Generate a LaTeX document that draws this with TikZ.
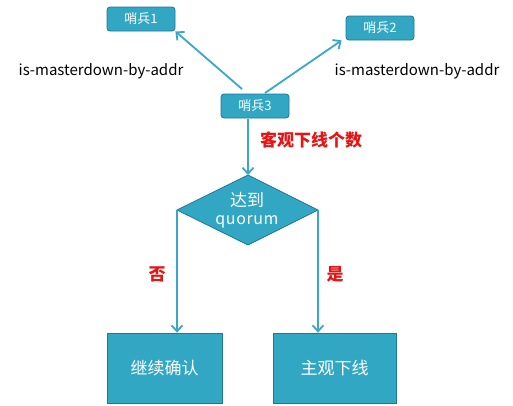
\documentclass[tikz,border=0pt]{standalone}
\usepackage{fontspec}
\setmainfont{Noto Sans CJK SC}
\usetikzlibrary{shapes.geometric,arrows.meta}
\definecolor{boxfill}{RGB}{49,167,196}
\definecolor{boxedge}{RGB}{30,120,150}
\definecolor{arr}{RGB}{58,166,200}
\definecolor{lblred}{RGB}{230,20,20}
\tikzset{
  sentinel/.style={draw=boxedge, fill=boxfill, rounded corners=3pt, line width=0.8pt,
    minimum width=68pt, minimum height=24pt, text=white, font=\fontsize{13}{13}\selectfont, inner sep=0pt},
  result/.style={draw=boxedge, fill=boxfill, line width=0.8pt,
    text=white, font=\fontsize{17}{17}\selectfont, inner sep=0pt},
  conn/.style={draw=arr, line width=1.8pt, -{Straight Barb[length=6pt,width=11pt,line width=1.8pt]}},
  redlbl/.style={text=lblred, font=\fontsize{17}{17}\selectfont\bfseries},
  plain/.style={text=black, font=\fontsize{15}{15}\selectfont},
}
\begin{document}
\begin{tikzpicture}[x=1pt,y=-1pt]
\useasboundingbox (0,0) rectangle (513,405);
\node[sentinel] (s1) at (141,19) {哨兵1};
\node[sentinel] (s2) at (380,28) {哨兵2};
\node[sentinel] (s3) at (255,106) {哨兵3};
\node[plain] (l1) at (101,71) {is-masterdown-by-addr};
\node[plain] (l2) at (417,71) {is-masterdown-by-addr};
\fill[boxfill, draw=boxedge, line width=0.8pt] (248,175) -- (318,210) -- (248,245) -- (177,210) -- cycle;
\node[text=white, font=\fontsize{17}{17}\selectfont] (d1) at (247,200) {达到};
\node[text=white, font=\fontsize{16}{16}\selectfont, inner sep=0pt] (d2) at (247,222) {q\kern0.6pt u\kern0.6pt o\kern0.6pt r\kern0.6pt u\kern0.6pt m};
\coordinate (dl) at (177,210);
\coordinate (dr) at (318,210);
\coordinate (dt) at (248,175);
\coordinate (a1) at (242,89);
\coordinate (a2) at (265,93);
\coordinate (a3) at (248,119);
\node[result, minimum width=115pt, minimum height=70pt] (no) at (164.5,368) {继续确认};
\node[result, minimum width=123pt, minimum height=70pt] (yes) at (334.5,368) {主观下线};
\draw[conn] (a1) -- (s1.south east);
\draw[conn] (a2) -- ([xshift=-4pt]s2.south west);
\draw[conn] (a3) -- (dt);
\draw[conn] (dl) -- (dl |- no.north);
\draw[conn] (dr) -- (dr |- yes.north);
\node[redlbl] (cnt) at (311,140) {客观下线个数};
\node[redlbl] (nl) at (157,274) {否};
\node[redlbl] (yl) at (335,274) {是};
\end{tikzpicture}
\end{document}
